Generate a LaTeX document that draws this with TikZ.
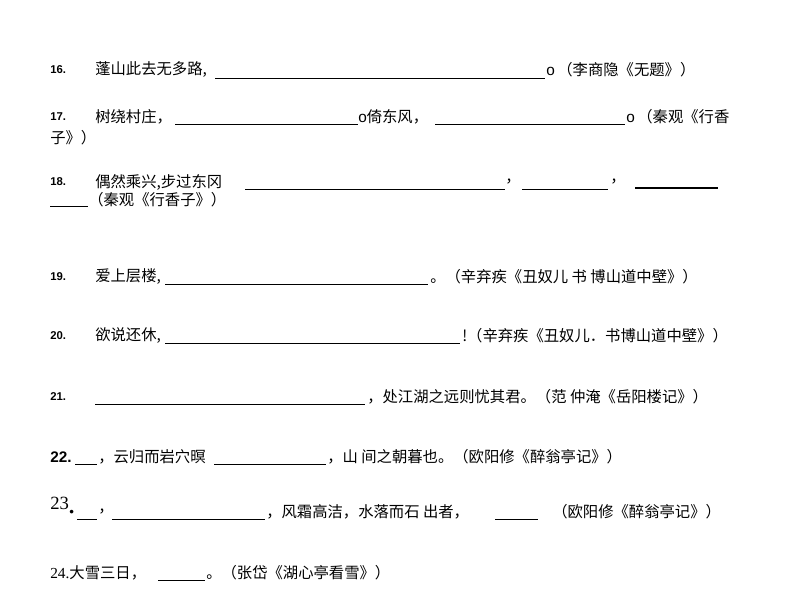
\documentclass[tikz,border=0pt]{standalone}
\usepackage{fontspec}
\setmainfont{Noto Sans CJK SC}
\newfontfamily\latin{Liberation Sans}
\newfontfamily\serif{Liberation Serif}
\begin{document}
\begin{tikzpicture}[x=0.75pt,y=-0.75pt,
  t/.style={anchor=west,inner sep=0pt,font=\fontsize{11.5}{13}\selectfont},
  num/.style={anchor=west,inner sep=0pt,font=\latin\bfseries\fontsize{8.5}{10}\selectfont},
  ul/.style={line width=0.6pt}]
\useasboundingbox (0,0) rectangle (794,609);
% 16
\node[num] (n16) at (50,70) {16.};
\node[t] (a16) at (95,70) {蓬山此去无多路,};
\coordinate (u16a) at (215,78); \coordinate (u16b) at (545,78);
\draw[ul] (u16a) -- (u16b);
\node[t] (b16) at (546,70) {{\latin o}\,（李商隐《无题》）};
% 17
\node[num] (n17) at (50,117) {17.};
\node[t] (a17) at (95,117) {树绕村庄，};
\coordinate (u17a) at (175,124); \coordinate (u17b) at (358,124);
\draw[ul] (u17a) -- (u17b);
\node[t] (b17) at (358,117) {{\latin o}倚东风，};
\coordinate (u17c) at (435,124); \coordinate (u17d) at (625,124);
\draw[ul] (u17c) -- (u17d);
\node[t] (c17) at (626,117) {{\latin o}\,（秦观《行香};
\node[t] (d17) at (50,138) {子》）};
% 18
\node[num] (n18) at (50,182) {18.};
\node[t] (a18) at (95,182) {偶然乘兴,步过东冈};
\coordinate (u18a) at (245,189); \coordinate (u18b) at (505,189);
\draw[ul] (u18a) -- (u18b);
\node[t] (b18) at (505,182) {，};
\coordinate (u18c) at (522,189); \coordinate (u18d) at (608,189);
\draw[ul] (u18c) -- (u18d);
\node[t] (c18) at (610,182) {，};
\coordinate (u18e) at (635,188); \coordinate (u18f) at (718,188);
\draw[line width=1pt] (u18e) -- (u18f);
\coordinate (u18g) at (50,206); \coordinate (u18h) at (88,206);
\draw[ul] (u18g) -- (u18h);
\node[t] (d18) at (88,200) {（秦观《行香子》）};
% 19
\node[num] (n19) at (50,277) {19.};
\node[t] (a19) at (95,277) {爱上层楼,};
\coordinate (u19a) at (165,284); \coordinate (u19b) at (428,284);
\draw[ul] (u19a) -- (u19b);
\node[t] (b19) at (430,277) {。（辛弃疾《丑奴儿 书 博山道中壁》）};
% 20
\node[num] (n20) at (50,336) {20.};
\node[t] (a20) at (95,336) {欲说还休,};
\coordinate (u20a) at (165,343); \coordinate (u20b) at (460,343);
\draw[ul] (u20a) -- (u20b);
\node[t] (b20) at (462,336) {!（辛弃疾《丑奴儿．书博山道中壁》）};
% 21
\node[num] (n21) at (50,397) {21.};
\coordinate (u21a) at (95,404); \coordinate (u21b) at (365,404);
\draw[ul] (u21a) -- (u21b);
\node[t] (b21) at (367,397) {，处江湖之远则忧其君。（范 仲淹《岳阳楼记》）};
% 22
\node[t] (n22) at (50,457) {{\latin\bfseries 22.}};
\coordinate (u22a) at (75,464); \coordinate (u22b) at (97,464);
\draw[ul] (u22a) -- (u22b);
\node[t] (a22) at (98,457) {，云归而岩穴暝};
\coordinate (u22c) at (214,464); \coordinate (u22d) at (326,464);
\draw[ul] (u22c) -- (u22d);
\node[t] (b22) at (327,457) {，山 间之朝暮也。（欧阳修《醉翁亭记》）};
% 23
\node[t,font=\serif\fontsize{14}{15}\selectfont] (n23) at (50,503) {23};
\node[t,font=\latin\fontsize{10}{12}\selectfont] (dot23) at (69,513) {•};
\coordinate (u23a) at (77,519); \coordinate (u23b) at (97,519);
\draw[ul] (u23a) -- (u23b);
\node[t] (a23) at (98,512) {，};
\coordinate (u23c) at (112,519); \coordinate (u23d) at (265,519);
\draw[ul] (u23c) -- (u23d);
\node[t] (b23) at (266,512) {，风霜高洁，水落而石 出者，};
\coordinate (u23e) at (495,519); \coordinate (u23f) at (538,519);
\draw[ul] (u23e) -- (u23f);
\node[t] (c23) at (552,512) {（欧阳修《醉翁亭记》）};
% 24
\node[t] (a24) at (50,573) {{\serif 24.}大雪三日，};
\coordinate (u24a) at (158,580); \coordinate (u24b) at (205,580);
\draw[ul] (u24a) -- (u24b);
\node[t] (b24) at (206,573) {。（张岱《湖心亭看雪》）};
\end{tikzpicture}
\end{document}
